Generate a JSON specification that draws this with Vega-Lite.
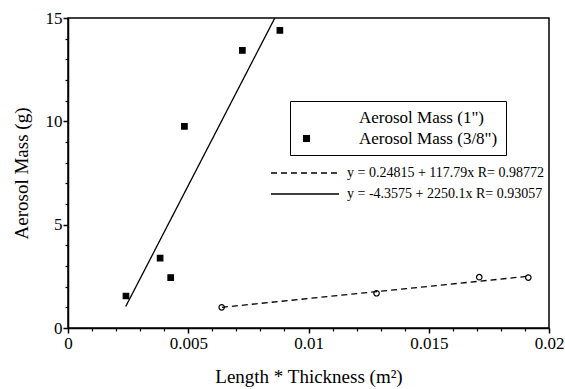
{
  "$schema": "https://vega.github.io/schema/vega-lite/v6.json",
  "width": 481,
  "height": 310,
  "autosize": "none",
  "padding": {"left": 68, "top": 18, "right": 16, "bottom": 61},
  "background": "white",
  "config": {
    "font": "Liberation Serif",
    "view": {"stroke": "black", "strokeWidth": 1.5},
    "axis": {"grid": false, "labelColor": "black", "titleColor": "black", "tickColor": "black", "domainColor": "black", "labelFont": "Liberation Serif", "titleFont": "Liberation Serif", "titleFontWeight": "normal"},
    "legend": {"labelFont": "Liberation Serif", "labelColor": "black", "labelLimit": 400}
  },
  "layer": [
    {
      "data": {"values": [
        {"series": "Aerosol Mass (1\")", "lt": 0.00639, "mass": 1.0},
        {"series": "Aerosol Mass (1\")", "lt": 0.01283, "mass": 1.68},
        {"series": "Aerosol Mass (1\")", "lt": 0.0171, "mass": 2.46},
        {"series": "Aerosol Mass (1\")", "lt": 0.01914, "mass": 2.44},
        {"series": "Aerosol Mass (3/8\")", "lt": 0.00241, "mass": 1.55},
        {"series": "Aerosol Mass (3/8\")", "lt": 0.00383, "mass": 3.38},
        {"series": "Aerosol Mass (3/8\")", "lt": 0.00427, "mass": 2.44},
        {"series": "Aerosol Mass (3/8\")", "lt": 0.00484, "mass": 9.76},
        {"series": "Aerosol Mass (3/8\")", "lt": 0.00725, "mass": 13.43},
        {"series": "Aerosol Mass (3/8\")", "lt": 0.00881, "mass": 14.4}
      ]},
      "mark": {"type": "point", "size": 30, "stroke": "black", "strokeWidth": 1.2, "opacity": 1},
      "encoding": {
        "x": {"field": "lt", "type": "quantitative", "scale": {"domain": [0, 0.02], "nice": false, "zero": false},
          "axis": {"values": [0, 0.005, 0.01, 0.015, 0.02], "format": "~g", "title": "Length * Thickness (m²)", "tickSize": 5, "tickWidth": 1.5, "domainWidth": 1.5, "labelPadding": 2, "labelFontSize": 17, "titleFontSize": 19, "titlePadding": 16, "labelFlush": false}},
        "y": {"field": "mass", "type": "quantitative", "scale": {"domain": [0, 15], "nice": false, "zero": false},
          "axis": {"values": [0, 5, 10, 15], "title": "Aerosol Mass (g)", "tickSize": 5, "tickWidth": 1.5, "domainWidth": 1.5, "labelPadding": 1, "labelFontSize": 17, "titleFontSize": 19, "titlePadding": 14}},
        "fill": {"field": "series", "type": "nominal", "scale": {"domain": ["Aerosol Mass (1\")", "Aerosol Mass (3/8\")"], "range": ["white", "black"]},
          "legend": {"title": null, "orient": "none", "legendX": 222, "legendY": 83, "padding": 8, "strokeColor": "black", "fillColor": "white", "symbolSize": 50, "symbolStrokeColor": "black", "symbolStrokeWidth": 1.2, "labelOffset": 44, "labelFontSize": 17, "rowPadding": 3}},
        "shape": {"field": "series", "type": "nominal", "scale": {"domain": ["Aerosol Mass (1\")", "Aerosol Mass (3/8\")"], "range": ["circle", "square"]},
          "legend": {"title": null, "orient": "none", "legendX": 222, "legendY": 83, "padding": 8, "strokeColor": "black", "fillColor": "white", "symbolSize": 50, "symbolStrokeColor": "black", "symbolStrokeWidth": 1.2, "labelOffset": 44, "labelFontSize": 17, "rowPadding": 3}}
      }
    },
    {
      "data": {"values": [
        {"fit": "y = 0.24815 + 117.79x R= 0.98772", "lt": 0.0064, "mass": 1.002},
        {"fit": "y = 0.24815 + 117.79x R= 0.98772", "lt": 0.01914, "mass": 2.503},
        {"fit": "y = -4.3575 + 2250.1x R= 0.93057", "lt": 0.0024, "mass": 1.04},
        {"fit": "y = -4.3575 + 2250.1x R= 0.93057", "lt": 0.0086, "mass": 15.0}
      ]},
      "mark": {"type": "line", "color": "black", "strokeWidth": 1.3},
      "encoding": {
        "x": {"field": "lt", "type": "quantitative", "scale": {"domain": [0, 0.02], "nice": false, "zero": false},
          "axis": {"orient": "bottom", "values": [0.001, 0.002, 0.003, 0.004, 0.006, 0.007, 0.008, 0.009, 0.011, 0.012, 0.013, 0.014, 0.016, 0.017, 0.018, 0.019], "labels": false, "domain": false, "title": null, "tickSize": 3, "tickWidth": 1.2}},
        "y": {"field": "mass", "type": "quantitative", "scale": {"domain": [0, 15], "nice": false, "zero": false},
          "axis": {"orient": "left", "values": [1, 2, 3, 4, 6, 7, 8, 9, 11, 12, 13, 14], "labels": false, "domain": false, "title": null, "tickSize": 3, "tickWidth": 1.2}},
        "strokeDash": {"field": "fit", "type": "nominal", "scale": {"domain": ["y = 0.24815 + 117.79x R= 0.98772", "y = -4.3575 + 2250.1x R= 0.93057"], "range": [[6, 4], [1, 0]]},
          "legend": {"title": null, "orient": "none", "legendX": 202, "legendY": 146, "padding": 0, "symbolType": "M-1,0H7.5", "symbolSize": 256, "symbolStrokeColor": "black", "symbolStrokeWidth": 1.3, "labelOffset": 59, "labelFontSize": 14, "rowPadding": 5}}
      }
    }
  ],
  "resolve": {"axis": {"x": "independent", "y": "independent"}}
}
